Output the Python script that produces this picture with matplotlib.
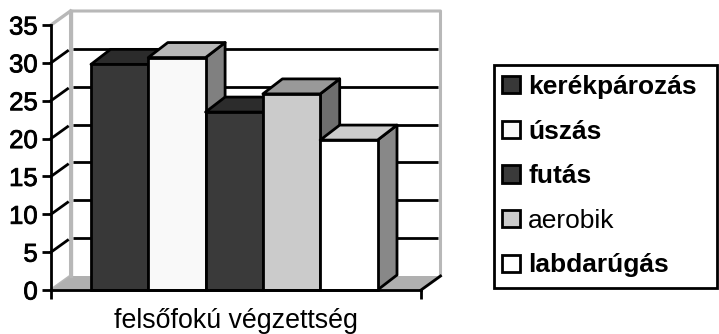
import matplotlib
matplotlib.use("Agg")
import matplotlib.pyplot as plt
from matplotlib.patches import Polygon, Patch
from matplotlib.legend_handler import HandlerPatch
import matplotlib.patheffects as pe

series = ["kerékpározás", "úszás", "futás", "aerobik", "labdarúgás"]
values = [29.8, 30.7, 23.5, 25.9, 19.8]
category = "felsőfokú végzettség"
yticks = [0, 5, 10, 15, 20, 25, 30, 35]

front = ["#383838", "#f9f9f9", "#3a3a3a", "#cbcbcb", "#ffffff"]
top = ["#2b2b2b", "#b8b8b8", "#2c2c2c", "#999999", "#cccccc"]
side = ["#222222", "#808080", "#222222", "#6e6e6e", "#888888"]
weights = ["bold", "bold", "bold", "normal", "bold"]

W, H = 719, 334
L, R, B, T = 51, 421, 290, 25
plt.rcParams["font.family"] = ["Liberation Sans", "DejaVu Sans"]
fig = plt.figure(figsize=(W / 100, H / 100), dpi=100)
ax = fig.add_axes([L / W, 1 - B / H, (R - L) / W, (B - T) / H])
ax.set_xlim(0, 1)
ax.set_ylim(0, 35)

dx = 19.5 / (R - L)
unit = (B - T) / 35
dy = 15 / unit
wdy = 14 / unit
bw = 57.3 / (R - L)
x0 = 40 / (R - L)
LW = 2.0


def poly(pts, fc, ec="black", lw=LW, z=2):
    ax.add_patch(Polygon(pts, closed=True, fc=fc, ec=ec, lw=lw, zorder=z,
                         clip_on=False, joinstyle="round"))


# walls and floor
grey = "#b8b8b8"
poly([(0, 0), (dx, wdy), (dx, 35 + wdy), (1 + dx, 35 + wdy), (1 + dx, wdy), (1, 0)], "white", grey, 2.2, 1)
poly([(0, 0), (dx, wdy), (1 + dx, wdy), (1, 0)], "#b0b0b0", "none", 0, 1.1)
ax.plot([dx, dx], [wdy, 35 + wdy], color=grey, lw=2.4, zorder=1.2, clip_on=False)
ax.plot([0, dx], [35, 35 + wdy], color=grey, lw=2.4, zorder=1.2, clip_on=False)

# gridlines
for v in yticks[1:-1]:
    ax.plot([dx + 0.006, 1 + dx - 0.006], [v + wdy, v + wdy], color="black", lw=LW, zorder=1.5,
            clip_on=False, solid_capstyle="butt")
    ax.plot([0, dx * 0.85], [v, v + wdy * 0.85], color="black", lw=LW, zorder=1.5, clip_on=False)
ax.plot([1, 1 + dx], [0, wdy], color="black", lw=LW, zorder=1.5, clip_on=False)

# bars
xs = [x0 + i * bw for i in range(len(values))]
for i, (x, v) in enumerate(zip(xs, values)):
    z = 2 + i * 0.1
    poly([(x + bw, 0), (x + bw + dx, dy), (x + bw + dx, v + dy), (x + bw, v)], side[i], z=z)
    poly([(x, v), (x + dx, v + dy), (x + bw + dx, v + dy), (x + bw, v)], top[i], z=z)
    ax.bar(x, v, bw, align="edge", color=front[i], edgecolor="black", lw=LW, zorder=z + 0.01, clip_on=False)

# axes
for s in ("top", "right"):
    ax.spines[s].set_visible(False)
for s in ("left", "bottom"):
    ax.spines[s].set_linewidth(LW)
    ax.spines[s].set_zorder(5)
ax.patch.set_visible(False)
ax.set_yticks(yticks)
ax.tick_params(axis="y", length=6.5, width=LW, labelsize=18.5, pad=3)
for t in ax.get_yticklabels():
    t.set_path_effects([pe.withStroke(linewidth=0.6, foreground="black")])
ax.set_xticks([0, 1])
ax.set_xticklabels(["", ""])
ax.tick_params(axis="x", length=6.5, width=LW)
ax.set_xlabel(category, fontsize=19.3, labelpad=2.8)

# legend
handles = [Patch(fc=front[i], ec="black", lw=LW) for i in range(len(series))]
leg = fig.legend(handles, series, loc="lower left",
                 bbox_to_anchor=(494 / W, 1 - 288 / H, 223 / W, 228 / H), mode="expand",
                 fontsize=19, frameon=True, fancybox=False, edgecolor="black",
                 framealpha=1, handlelength=0.60, handleheight=0.62, handletextpad=0.3,
                 labelspacing=0.78, borderaxespad=0, borderpad=0.40,
                 handler_map={Patch: HandlerPatch(xpad=-0.08)})
leg.get_frame().set_linewidth(2.0)
for t, w in zip(leg.get_texts(), weights):
    t.set_fontweight(w)

fig.savefig("out.png", dpi=100)
